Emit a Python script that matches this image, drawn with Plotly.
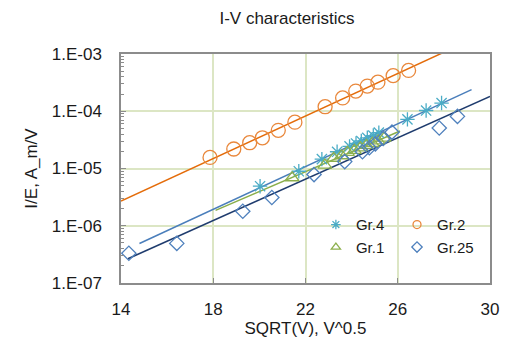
import numpy as np
import plotly.graph_objects as go

# ---- data ----
gr4_x = [20.03, 21.71, 22.71, 23.37, 23.91, 24.19, 24.42, 24.68, 24.94, 25.18, 26.42, 27.23, 27.90]
gr4_y = [4.91e-6, 8.95e-6, 1.46e-5, 1.96e-5, 2.43e-5, 2.74e-5, 3.03e-5, 3.44e-5, 3.76e-5, 4.24e-5, 7.21e-5, 1.03e-4, 1.39e-4]

gr2_x = [17.86, 18.89, 19.58, 20.13, 20.82, 21.54, 22.85, 23.61, 24.18, 24.68, 25.14, 25.80, 26.47]
gr2_y = [1.56e-5, 2.19e-5, 2.82e-5, 3.44e-5, 4.64e-5, 6.45e-5, 1.20e-4, 1.71e-4, 2.25e-4, 2.75e-4, 3.22e-4, 4.19e-4, 5.17e-4]

gr1_x = [21.42, 22.84, 23.22, 23.57, 23.82, 24.12, 24.38, 24.64, 24.90, 25.15, 25.41]
gr1_y = [6.9e-6, 1.15e-5, 1.51e-5, 1.67e-5, 1.92e-5, 2.08e-5, 2.30e-5, 2.53e-5, 2.74e-5, 3.03e-5, 3.40e-5]

gr25_x = [14.34, 16.42, 19.28, 20.54, 22.37, 23.70, 24.47, 24.77, 25.03, 25.37, 25.75, 27.80, 28.59]
gr25_y = [3.31e-7, 4.92e-7, 1.79e-6, 3.12e-6, 7.83e-6, 1.32e-5, 1.96e-5, 2.30e-5, 2.69e-5, 3.34e-5, 4.31e-5, 5.09e-5, 8.13e-5]

# trendline spans (Excel forecast extents)
gr4_trend = [14.8, 29.2]
gr2_trend = [14.0, 30.0]
gr1_trend = [18.1, 26.1]
gr25_trend = [14.3, 30.0]

y_tickvals = [1e-7, 1e-6, 1e-5, 1e-4, 1e-3]
y_ticktext = ["1.E-07", "1.E-06", "1.E-05", "1.E-04", "1.E-03"]
x_tickvals = [14, 18, 22, 26, 30]

FONT = "Liberation Sans, Arial, sans-serif"

def trend(x, y, span):
    b, a = np.polyfit(np.array(x), np.log10(np.array(y)), 1)
    xs = np.array(span)
    return xs, 10 ** (a + b * xs)

fig = go.Figure()

series = [
    ("Gr.4", gr4_x, gr4_y, gr4_trend, "asterisk-open", 12, "#4BACC6", "#4a7ebb", "legend"),
    ("Gr.2", gr2_x, gr2_y, gr2_trend, "circle-open", 14, "#E9883C", "#E46C0A", "legend2"),
    ("Gr.1", gr1_x, gr1_y, gr1_trend, "triangle-up-open", 12, "#8DB04E", "#8AAE4A", "legend"),
    ("Gr.25", gr25_x, gr25_y, gr25_trend, "diamond-open", 11, "#4F81BD", "#1F3C6E", "legend2"),
]

# trendlines first (under markers)
for name, x, y, span, sym, sz, mcol, lcol, lg in series:
    tx, ty = trend(x, y, span)
    fig.add_trace(go.Scatter(x=tx, y=ty, mode="lines", line=dict(color=lcol, width=1.5),
                             showlegend=False, hoverinfo="skip"))

for name, x, y, span, sym, sz, mcol, lcol, lg in series:
    fig.add_trace(go.Scatter(x=x, y=y, mode="markers", name=name, showlegend=False,
                             marker=dict(symbol=sym, size=sz, color=mcol,
                                         line=dict(color=mcol, width=1.3))))
    # small legend swatch, as in the reference
    fig.add_trace(go.Scatter(x=[None], y=[None], mode="markers", name=name, legend=lg,
                             legendgroup=name,
                             marker=dict(symbol=sym, size=8, color=mcol,
                                         line=dict(color=mcol, width=1.3))))

W, H = 511, 345
L, R, T, B = 121, 17, 54, 58
pw, ph = W - L - R, H - T - B

def px2paper_x(px):
    return (px - L) / pw

def px2paper_y(py):
    return (H - B - py) / ph

grid_col = "#DCE6C4"
axis_col = "#8C8C8C"

fig.update_layout(
    width=W, height=H,
    margin=dict(l=L, r=R, t=T, b=B),
    paper_bgcolor="white", plot_bgcolor="white",
    font=dict(family=FONT, size=17, color="#1a1a1a"),
    title=dict(text="I-V characteristics", x=287 / W, xanchor="center", y=1 - 18 / H, yanchor="middle",
               font=dict(size=17, family=FONT, color="#1a1a1a")),
    xaxis=dict(range=[14, 30], tickvals=x_tickvals, showgrid=True, gridcolor=grid_col, gridwidth=1.5,
               showline=True, mirror=True, linecolor=axis_col, linewidth=1.5,
               ticks="inside", ticklen=5, tickcolor=axis_col, zeroline=False,
               tickfont=dict(size=17), ticklabelstandoff=10,
               title=dict(text="SQRT(V), V^0.5", font=dict(size=17), standoff=2)),
    yaxis=dict(type="log", range=[-7, -3], tickvals=y_tickvals, ticktext=y_ticktext,
               showgrid=True, gridcolor=grid_col, gridwidth=1.5,
               showline=True, mirror=True, linecolor=axis_col, linewidth=1.5,
               ticks="inside", ticklen=5, tickcolor=axis_col, zeroline=False,
               minor=dict(ticks="inside", ticklen=3, tickcolor=axis_col, dtick="D1", showgrid=False),
               tickfont=dict(size=17), ticklabelstandoff=14,
               title=dict(text="I/E, A_m/V", font=dict(size=17), standoff=10)),
    legend=dict(x=px2paper_x(318), y=px2paper_y(211), xanchor="left", yanchor="top",
                bgcolor="rgba(0,0,0,0)", font=dict(size=15), itemwidth=30, tracegroupgap=8,
                traceorder="normal"),
    legend2=dict(x=px2paper_x(400), y=px2paper_y(211), xanchor="left", yanchor="top",
                 bgcolor="rgba(0,0,0,0)", font=dict(size=15), itemwidth=30, tracegroupgap=8,
                 traceorder="normal"),
    shapes=[dict(type="rect", xref="paper", yref="paper",
                 x0=px2paper_x(317), x1=px2paper_x(479), y0=px2paper_y(265), y1=px2paper_y(208),
                 fillcolor="white", line=dict(width=0), layer="between")],
)

fig.write_html("out.html")
